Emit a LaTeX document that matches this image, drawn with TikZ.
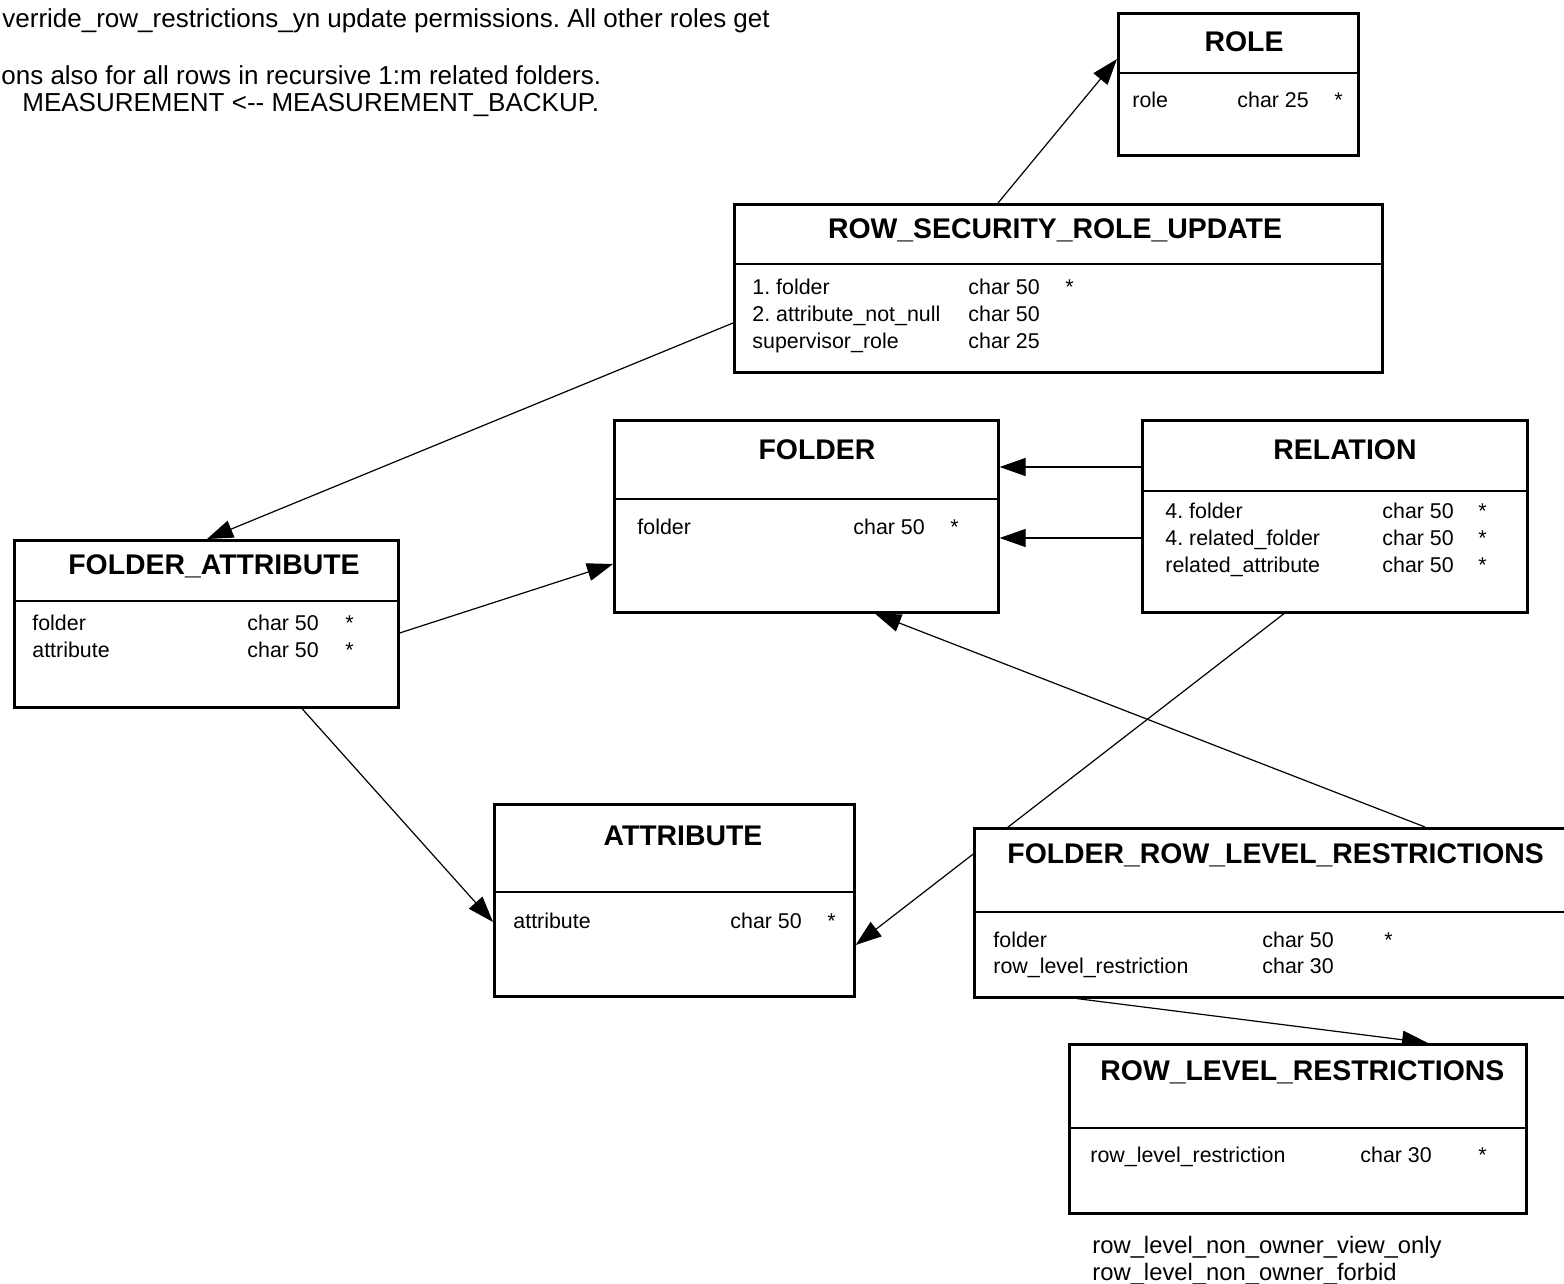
\documentclass[tikz,border=0pt]{standalone}
\usepackage{fontspec}
\setmainfont{Liberation Sans}[Ligatures=TeXOff]
\usetikzlibrary{arrows.meta,calc,backgrounds}
\frenchspacing
\tikzset{
  tbl/.style={draw, fill=white, line width=1.3pt, inner sep=0pt, anchor=north west},
  sep/.style={line width=1.3pt},
  ttl/.style={anchor=base, font=\fontsize{14.2}{16}\selectfont\bfseries, inner sep=0pt},
  fld/.style={anchor=base west, font=\fontsize{10.7}{12}\selectfont, inner sep=0pt},
  note/.style={anchor=base west, font=\fontsize{13}{15}\selectfont, inner sep=0pt},
  bnote/.style={anchor=base west, font=\fontsize{11.9}{14}\selectfont, inner sep=0pt},
  conn/.style={line width=0.6pt, -{Triangle[length=13pt,width=9pt]}},
}
\newcommand\entbox[6]{%
  \node[tbl, minimum width=#4*0.5pt, minimum height=#5*0.5pt] (#1) at (#2,#3) {};
  \draw[sep] ($(#1.north west)+(0,#6)$) -- ($(#1.north east)+(0,#6)$);}
\newcommand\fldtxt[4]{\node[fld] (#1) at (#2,#3) {#4};}
\begin{document}
\frenchspacing
\begin{tikzpicture}[x=0.5pt,y=-0.5pt]
\useasboundingbox (0,0) rectangle (1564,1284);

% notes at top left
\node[note] (n1) at (2,28) {verride\_row\_restrictions\_yn update permissions. All other roles get};
\node[note] (n2) at (1,85) {ons also for all rows in recursive 1:m related folders.};
\node[note] (n3) at (22,112) {MEASUREMENT <-- MEASUREMENT\_BACKUP.};

% ROLE
\entbox{role}{1117}{12}{240}{142}{61}
\node[ttl] (roleT) at (1244,52) {ROLE};
\fldtxt{role1a}{1132}{108}{role}
\fldtxt{role1b}{1237}{108}{char 25}
\fldtxt{role1c}{1334}{108}{*}

% ROW_SECURITY_ROLE_UPDATE
\entbox{rsru}{733}{203}{648}{168}{61}
\node[ttl] (rsruT) at (1055,238) {ROW\_SECURITY\_ROLE\_UPDATE};
\fldtxt{rsru1a}{752}{294}{1. folder}
\fldtxt{rsru1b}{968}{294}{char 50}
\fldtxt{rsru1c}{1065}{294}{*}
\fldtxt{rsru2a}{752}{321}{2. attribute\_not\_null}
\fldtxt{rsru2b}{968}{321}{char 50}
\fldtxt{rsru3a}{752}{348}{supervisor\_role}
\fldtxt{rsru3b}{968}{348}{char 25}

% FOLDER
\entbox{folder}{613}{419}{384}{192}{80}
\node[ttl] (folderT) at (817,459) {FOLDER};
\fldtxt{folder1a}{637}{534}{folder}
\fldtxt{folder1b}{853}{534}{char 50}
\fldtxt{folder1c}{950}{534}{*}

% RELATION
\entbox{relation}{1141}{419}{385}{192}{72}
\node[ttl] (relationT) at (1345,459) {RELATION};
\fldtxt{rel1a}{1165}{518}{4. folder}
\fldtxt{rel1b}{1382}{518}{char 50}
\fldtxt{rel1c}{1478}{518}{*}
\fldtxt{rel2a}{1165}{545}{4. related\_folder}
\fldtxt{rel2b}{1382}{545}{char 50}
\fldtxt{rel2c}{1478}{545}{*}
\fldtxt{rel3a}{1165}{572}{related\_attribute}
\fldtxt{rel3b}{1382}{572}{char 50}
\fldtxt{rel3c}{1478}{572}{*}

% FOLDER_ATTRIBUTE
\entbox{fa}{13}{539}{384}{167}{62}
\node[ttl] (faT) at (214,574) {FOLDER\_ATTRIBUTE};
\fldtxt{fa1a}{32}{630}{folder}
\fldtxt{fa1b}{247}{630}{char 50}
\fldtxt{fa1c}{345}{630}{*}
\fldtxt{fa2a}{32}{657}{attribute}
\fldtxt{fa2b}{247}{657}{char 50}
\fldtxt{fa2c}{345}{657}{*}

% ATTRIBUTE
\entbox{attr}{493}{803}{360}{192}{89}
\node[ttl] (attrT) at (683,845) {ATTRIBUTE};
\fldtxt{attr1a}{513}{928}{attribute}
\fldtxt{attr1b}{730}{928}{char 50}
\fldtxt{attr1c}{827}{928}{*}

% FOLDER_ROW_LEVEL_RESTRICTIONS
\entbox{frlr}{973}{827}{620}{169}{85}
\node[ttl, anchor=base west] (frlrT) at (1007,863) {FOLDER\_ROW\_LEVEL\_RESTRICTIONS};
\fldtxt{frlr1a}{993}{947}{folder}
\fldtxt{frlr1b}{1262}{947}{char 50}
\fldtxt{frlr1c}{1384}{947}{*}
\fldtxt{frlr2a}{993}{973}{row\_level\_restriction}
\fldtxt{frlr2b}{1262}{973}{char 30}

% ROW_LEVEL_RESTRICTIONS
\entbox{rlr}{1068}{1043}{457}{169}{85}
\node[ttl, anchor=base west] (rlrT) at (1100,1080) {ROW\_LEVEL\_RESTRICTIONS};
\fldtxt{rlr1a}{1090}{1162}{row\_level\_restriction}
\fldtxt{rlr1b}{1360}{1162}{char 30}
\fldtxt{rlr1c}{1478}{1162}{*}

\node[bnote] (b1) at (1092,1253) {row\_level\_non\_owner\_view\_only};
\node[bnote] (b2) at (1092,1280) {row\_level\_non\_owner\_forbid};

% connectors
\begin{scope}[on background layer]
\draw[conn] ($(rsru.north west)+(265,0)$) -- ($(role.north west)+(0,47)$);
\draw[conn] ($(rsru.north west)+(0,120)$) -- ($(fa.north west)+(194,0)$);
\draw[conn] ($(fa.north east)+(0,94)$) -- ($(folder.north west)+(0,145)$);
\draw[conn] ($(relation.north west)+(0,48)$) -- ($(folder.north east)+(0,48)$);
\draw[conn] ($(relation.north west)+(0,119)$) -- ($(folder.north east)+(0,119)$);
\draw[conn] ($(frlr.north west)+(452,0)$) -- ($(folder.south west)+(262,0)$);
\draw[conn] ($(relation.south west)+(143,0)$) -- ($(attr.north east)+(0,142)$);
\draw[conn] ($(fa.south west)+(289,0)$) -- ($(attr.north west)+(0,119)$);
\draw[conn] ($(frlr.south west)+(104,0)$) -- ($(rlr.north west)+(360,0)$);
\end{scope}
\end{tikzpicture}
\end{document}
